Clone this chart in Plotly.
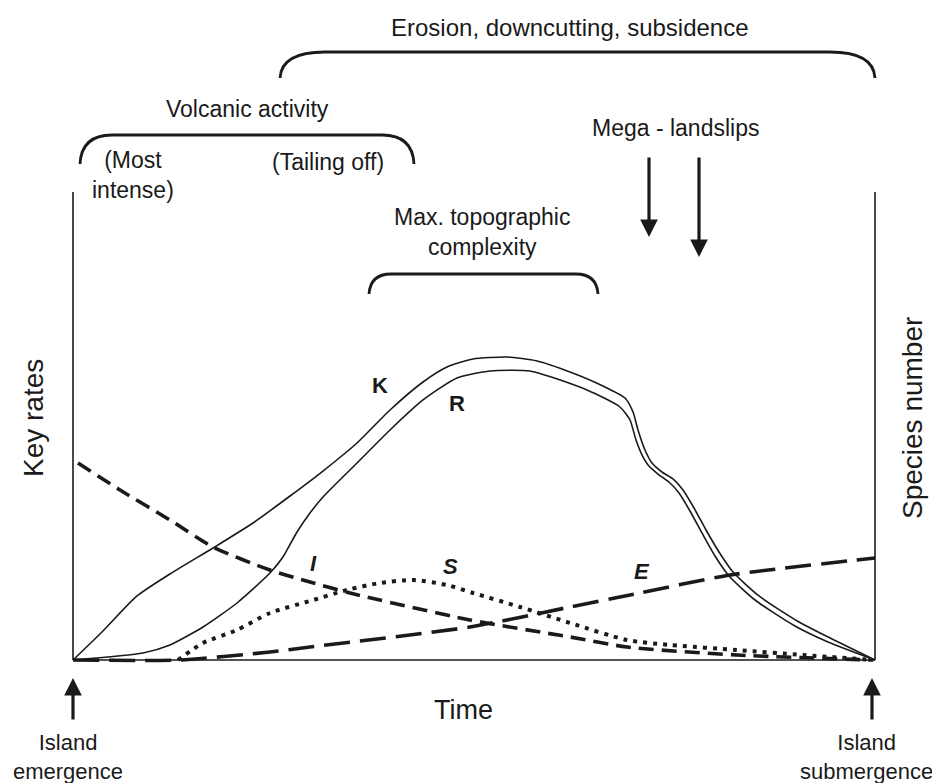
import plotly.graph_objects as go

# ---------------- data (time 0-100, rate 0-100) ----------------
k_time = [0, 3.74, 7.98, 12.09, 17.46, 22.44, 27.06, 31.17, 35.41, 39.53, 43.64, 46.63, 49.88,
          54.11, 57.86, 61.97, 66.08, 68.83, 69.83, 70.45, 71.32, 72.19, 73.44, 74.81, 76.06,
          77.43, 78.93, 80.55, 82.29, 85.54, 90.52, 94.64, 100]
k_vals = [0, 6.20, 13.68, 18.38, 23.93, 29.27, 35.04, 40.38, 46.37, 53.42, 59.40, 62.61, 64.32,
          64.74, 63.89, 61.54, 58.55, 55.98, 52.99, 49.15, 44.87, 42.09, 40.17, 38.68, 36.32,
          32.48, 27.78, 23.08, 18.80, 13.68, 8.12, 4.49, 0]

r_time = [0, 8.73, 12.09, 16.21, 20.45, 24.56, 26.18, 27.93, 29.55, 31.17, 35.41, 39.53, 43.64,
          47.88, 52.0, 56.98, 64.09, 68.2, 69.45, 70.2, 71.07, 71.70, 72.94, 74.31, 75.56,
          76.93, 78.43, 80.05, 81.80, 85.04, 90.02, 94.14, 100]
r_vals = [0, 1.50, 3.21, 7.05, 12.18, 18.59, 22.01, 27.35, 31.41, 34.83, 42.09, 49.15, 55.56,
          60.26, 61.75, 61.75, 57.69, 54.06, 51.28, 47.01, 43.38, 41.67, 39.74, 38.03, 35.68,
          31.84, 27.14, 22.22, 17.95, 12.82, 7.26, 3.85, 0]

i_time = [0.62, 5.86, 12.09, 17.46, 24.56, 29.55, 34.54, 49.5, 61.97, 69.08, 82.79, 99.75]
i_vals = [42.09, 36.32, 29.91, 24.15, 19.23, 16.67, 14.32, 8.55, 4.91, 2.78, 1.07, 0]

s_time = [13.09, 16.21, 20.45, 24.56, 29.55, 34.16, 38.28, 42.39, 46.63, 49.88, 55.74, 61.97,
          69.08, 74.44, 82.79, 91.02, 99.75]
s_vals = [0, 3.63, 6.41, 10.04, 12.61, 14.96, 16.45, 17.09, 16.03, 14.32, 11.32, 7.91,
          4.27, 3.21, 2.14, 1.07, 0]

e_time = [0, 13.34, 24.56, 29.55, 49.5, 61.97, 69.45, 81.92, 100]
e_vals = [0, 0, 1.71, 2.78, 7.05, 11.32, 13.89, 18.16, 21.79]

curve_labels = ["K", "R", "I", "S", "E"]

# ---------------- pixel helpers for layout decorations ----------------
OFF = 8                       # page body margin
W, H = 940 - OFF, 783 - OFF   # figure size
X0PX, Y0PX, XS, YS = 73, 660, 8.02, 4.68


def X(px):
    return (px - X0PX) / XS


def Y(py):
    return (Y0PX - py) / YS


def PX(px):
    return (px - OFF) / W


def PY(py):
    return 1 - (py - OFF) / H


INK = "#1a1a1a"
FONT = "Liberation Sans, Arial, Helvetica, sans-serif"

fig = go.Figure()

fig.add_trace(go.Scatter(x=k_time, y=k_vals, mode="lines", name="K",
                         line=dict(color=INK, width=1.6, shape="spline", smoothing=0.6)))
fig.add_trace(go.Scatter(x=r_time, y=r_vals, mode="lines", name="R",
                         line=dict(color=INK, width=1.6, shape="spline", smoothing=0.6)))
fig.add_trace(go.Scatter(x=i_time, y=i_vals, mode="lines", name="I",
                         line=dict(color=INK, width=3.6, dash="15px,8px", shape="spline", smoothing=0.7)))
fig.add_trace(go.Scatter(x=s_time, y=s_vals, mode="lines", name="S",
                         line=dict(color=INK, width=4, dash="4px,6px", shape="spline", smoothing=0.7)))
fig.add_trace(go.Scatter(x=e_time, y=e_vals, mode="lines", name="E",
                         line=dict(color=INK, width=3.6, dash="26px,10px", shape="spline", smoothing=0.6)))

shapes = []
# axes frame (left, bottom, right)
for x0, y0, x1, y1 in [(0, 0, 0, 100), (0, 0, 100, 0), (100, 0, 100, 100)]:
    shapes.append(dict(type="line", xref="x", yref="y", x0=x0, y0=y0, x1=x1, y1=y1,
                       line=dict(color=INK, width=1.6)))


def brace(x_left, x_right, y_top, y_end, r_x):
    p = (f"M {X(x_left)},{Y(y_end)} "
         f"C {X(x_left + 1)},{Y(y_top + (y_end - y_top) * 0.3)} {X(x_left + r_x * 0.4)},{Y(y_top)} {X(x_left + r_x)},{Y(y_top)} "
         f"L {X(x_right - r_x)},{Y(y_top)} "
         f"C {X(x_right - r_x * 0.4)},{Y(y_top)} {X(x_right - 1)},{Y(y_top + (y_end - y_top) * 0.3)} {X(x_right)},{Y(y_end)}")
    return dict(type="path", xref="x", yref="y", path=p, line=dict(color=INK, width=2.8))


shapes.append(brace(280, 875, 52, 78, 45))
shapes.append(brace(80, 414, 135, 164, 32))
shapes.append(brace(369, 598, 274, 294, 22))

annotations = []


def text(t, px, py, size=23, bold=False, italic=False, angle=0):
    s = t
    if bold:
        s = f"<b>{s}</b>"
    if italic:
        s = f"<i>{s}</i>"
    annotations.append(dict(text=s, x=PX(px), y=PY(py), xref="paper", yref="paper",
                            showarrow=False, xanchor="center", yanchor="middle",
                            textangle=angle, font=dict(family=FONT, size=size, color=INK)))


text("Erosion, downcutting, subsidence", 570, 27, size=24)
text("Volcanic activity", 247, 109)
text("(Most<br>intense)", 133, 175)
text("(Tailing off)", 328, 162)
text("Mega - landslips", 675, 128)
text("Max. topographic<br>complexity", 482, 232)
text("Key rates", 33, 418, size=28, angle=-90)
text("Species number", 912, 418, size=28, angle=-90)
text("Time", 463, 710, size=27)
text("Island<br>emergence", 68, 757, size=22)
text("Island<br>submergence", 866, 757, size=22)

# curve labels
text(curve_labels[0], 380, 385, size=22, bold=True)
text(curve_labels[1], 457, 403, size=22, bold=True)
text(curve_labels[2], 313, 563, size=22, bold=True, italic=True)
text(curve_labels[3], 450, 566, size=22, bold=True, italic=True)
text(curve_labels[4], 642, 571, size=22, bold=True, italic=True)

# arrows
for tip_x, tip_y, dy in [(649, 237, -81), (699, 257, -101), (73, 678, 43), (872, 678, 43)]:
    annotations.append(dict(x=PX(tip_x), y=PY(tip_y), xref="paper", yref="paper",
                            ax=0, ay=dy, axref="pixel", ayref="pixel", text="",
                            showarrow=True, arrowhead=2, arrowsize=1.1, arrowwidth=3.2,
                            arrowcolor=INK, standoff=0, startstandoff=0))

fig.update_layout(
    width=W, height=H,
    margin=dict(l=0, r=0, t=0, b=0),
    paper_bgcolor="white", plot_bgcolor="white",
    showlegend=False,
    xaxis=dict(range=[X(OFF), X(940)], visible=False, fixedrange=True),
    yaxis=dict(range=[Y(783), Y(OFF)], visible=False, fixedrange=True),
    shapes=shapes,
    annotations=annotations,
)

fig.write_html("out.html")
